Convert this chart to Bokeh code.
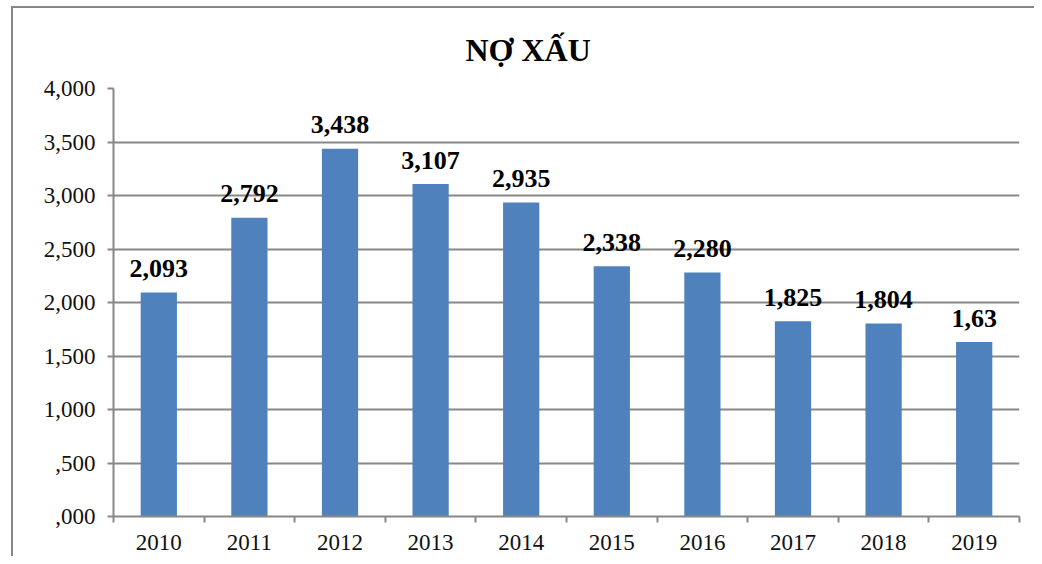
from bokeh.plotting import figure
from bokeh.models import (ColumnDataSource, FactorRange, Range1d, LinearAxis, CategoricalAxis,
                          FixedTicker, CustomJSTickFormatter, Title)
from bokeh.core.properties import value
from bokeh.embed import file_html
from bokeh.resources import INLINE

years = ["2010", "2011", "2012", "2013", "2014", "2015", "2016", "2017", "2018", "2019"]
values = [2.093, 2.792, 3.438, 3.107, 2.935, 2.338, 2.280, 1.825, 1.804, 1.63]
labels = ["2,093", "2,792", "3,438", "3,107", "2,935", "2,338", "2,280", "1,825", "1,804", "1,63"]
y_ticks = [0, 0.5, 1.0, 1.5, 2.0, 2.5, 3.0, 3.5, 4.0]
title_text = "NỢ XẤU"

FONT = "'Liberation Serif', 'Times New Roman', serif"
GRAY = "#878787"
BAR = "#4F81BD"

src = ColumnDataSource(dict(year=years, val=values, lab=labels))

p = figure(x_range=FactorRange(*years), y_range=Range1d(0, 4),
           frame_width=906, frame_height=428,
           min_border_left=100, min_border_right=15, min_border_top=80, min_border_bottom=40,
           output_backend="svg", toolbar_location=None, tools="",
           x_axis_location=None, y_axis_location=None)
p.outline_line_color = None
p.background_fill_color = "white"
p.border_fill_color = "white"
p.styles = {"border-left": f"2px solid {GRAY}", "border-top": f"2px solid {GRAY}",
            "margin-left": "11px", "margin-top": "6px"}

p.title = Title(text=title_text, align="left", offset=352, standoff=42,
                text_font=FONT, text_font_style="bold", text_font_size="32px",
                text_color="#000000")

# tick-only bottom axis at category boundaries (synthetic coordinates of the factor range)
tick_axis = LinearAxis(ticker=FixedTicker(ticks=list(range(len(years) + 1))),
                       formatter=CustomJSTickFormatter(code="return '';"),
                       major_label_text_font_size="1px", major_label_standoff=0,
                       axis_line_color=GRAY, axis_line_width=2,
                       major_tick_line_color=GRAY, major_tick_line_width=2,
                       major_tick_out=6, major_tick_in=0, minor_tick_line_color=None)
p.add_layout(tick_axis, "below")

lab_axis = CategoricalAxis(axis_line_color=None, major_tick_line_color=None,
                           major_label_standoff=6,
                           major_label_text_font=FONT, major_label_text_font_size="23px",
                           major_label_text_color="#111111")
p.add_layout(lab_axis, "below")

yaxis = LinearAxis(ticker=FixedTicker(ticks=y_ticks),
                   formatter=CustomJSTickFormatter(code="""
                       let s = tick.toFixed(3).replace('.', ',');
                       if (s[0] === '0') { s = s.slice(1); }
                       return s;
                   """),
                   axis_line_color=GRAY, axis_line_width=2,
                   major_tick_line_color=GRAY, major_tick_line_width=2,
                   major_tick_out=6, major_tick_in=0, minor_tick_line_color=None,
                   major_label_standoff=12,
                   major_label_text_font=FONT, major_label_text_font_size="23px",
                   major_label_text_color="#111111")
p.add_layout(yaxis, "left")

p.xgrid.visible = False
p.ygrid.ticker = FixedTicker(ticks=y_ticks)
p.ygrid.grid_line_color = GRAY
p.ygrid.grid_line_width = 2

p.vbar(x="year", top="val", width=0.4, source=src, fill_color=BAR, line_color=None)

p.text(x="year", y="val", text="lab", source=src, y_offset=-24,
       text_align="center", text_baseline="alphabetic",
       text_font=value(FONT), text_font_style="bold", text_font_size="26px", text_color="#000000")

open("out.html", "w").write(file_html(p, INLINE))
